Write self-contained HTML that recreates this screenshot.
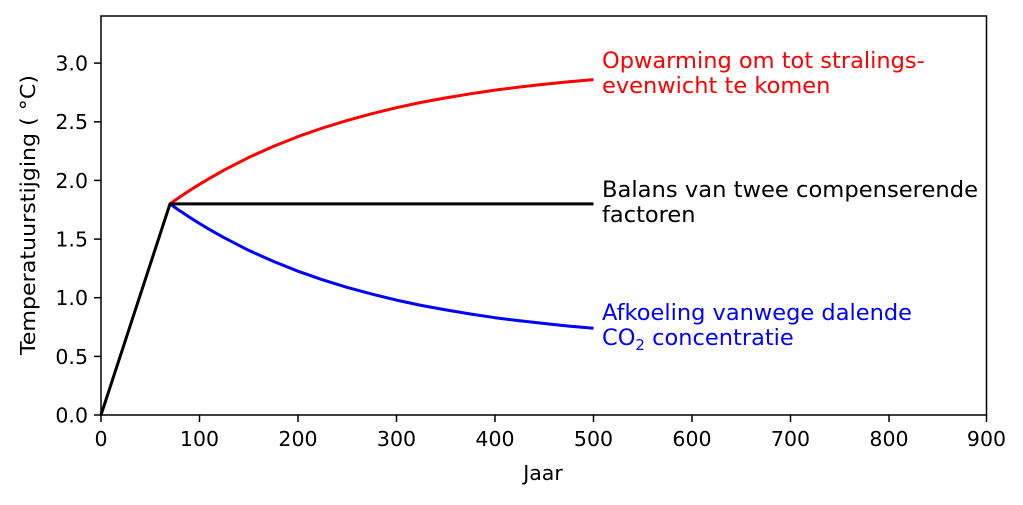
<!DOCTYPE html>
<html><head><meta charset="utf-8"><style>html,body{margin:0;padding:0;background:#fff;}</style></head>
<body>
<svg width="1023" height="500" xmlns="http://www.w3.org/2000/svg" font-family="DejaVu Sans, Liberation Sans, sans-serif">
<rect width="1023" height="500" fill="#fff"/>
<g fill="none" stroke-width="3" stroke-linejoin="round">
<polyline stroke="#f00" points="170,203.9 179.8,197 189.6,190.5 199.5,184.3 209.4,178.4 224.1,170.1 248.8,157.4 273.4,146.4 298,136.6 322.6,128 347.3,120.4 371.9,113.7 396.5,107.7 421.1,102.4 445.8,97.9 470.4,93.8 495,90.1 519.6,87 544.3,84.3 568.9,81.7 593.5,79.6"/>
<polyline stroke="#00f" points="170,203.9 179.8,210.8 189.6,217.3 199.5,223.5 209.4,229.4 224.1,237.7 248.8,250.4 273.4,261.4 298,271.2 322.6,279.8 347.3,287.4 371.9,294.1 396.5,300.1 421.1,305.4 445.8,309.9 470.4,314 495,317.7 519.6,320.8 544.3,323.5 568.9,326.1 593.5,328.2"/>
<polyline stroke="#000" points="101,415 170,203.9 593.5,203.9"/>
</g>
<rect x="101" y="16" width="885.5" height="399" fill="none" stroke="#000" stroke-width="1.5"/>
<g stroke="#000" stroke-width="1.5">
<line x1="101" y1="415" x2="101" y2="422"/><line x1="199.5" y1="415" x2="199.5" y2="422"/><line x1="298" y1="415" x2="298" y2="422"/><line x1="396.5" y1="415" x2="396.5" y2="422"/><line x1="495" y1="415" x2="495" y2="422"/><line x1="593.5" y1="415" x2="593.5" y2="422"/><line x1="692" y1="415" x2="692" y2="422"/><line x1="790.5" y1="415" x2="790.5" y2="422"/><line x1="889" y1="415" x2="889" y2="422"/><line x1="986.5" y1="415" x2="986.5" y2="422"/>
<line x1="94" y1="415" x2="101" y2="415"/><line x1="94" y1="356.4" x2="101" y2="356.4"/><line x1="94" y1="297.7" x2="101" y2="297.7"/><line x1="94" y1="239.1" x2="101" y2="239.1"/><line x1="94" y1="180.4" x2="101" y2="180.4"/><line x1="94" y1="121.8" x2="101" y2="121.8"/><line x1="94" y1="63.1" x2="101" y2="63.1"/>
</g>
<g font-size="20.5" text-anchor="middle" fill="#000">
<text x="101" y="446">0</text><text x="199.5" y="446">100</text><text x="298" y="446">200</text><text x="396.5" y="446">300</text><text x="495" y="446">400</text><text x="593.5" y="446">500</text><text x="692" y="446">600</text><text x="790.5" y="446">700</text><text x="889" y="446">800</text><text x="986.5" y="446">900</text>
<text x="543" y="480">Jaar</text>
</g>
<g font-size="20.5" text-anchor="end" fill="#000">
<text x="88" y="422.5">0.0</text><text x="88" y="364">0.5</text><text x="88" y="305">1.0</text><text x="88" y="246.5">1.5</text><text x="88" y="188">2.0</text><text x="88" y="129">2.5</text><text x="88" y="70.5">3.0</text>
</g>
<text transform="translate(35,215) rotate(-90)" font-size="20.5" text-anchor="middle" textLength="280" lengthAdjust="spacingAndGlyphs">Temperatuurstijging ( °C)</text>
<g font-size="22.5">
<text x="602" y="68" fill="#f00">Opwarming om tot stralings-</text>
<text x="602" y="93" fill="#f00">evenwicht te komen</text>
<text x="602" y="197" fill="#000" textLength="376" lengthAdjust="spacingAndGlyphs">Balans van twee compenserende</text>
<text x="602" y="222" fill="#000">factoren</text>
<text x="602" y="320" fill="#00f">Afkoeling vanwege dalende</text>
<text x="602" y="345" fill="#00f">CO<tspan font-size="15" dy="5">2</tspan><tspan dy="-5"> concentratie</tspan></text>
</g>
</svg>
</body></html>
